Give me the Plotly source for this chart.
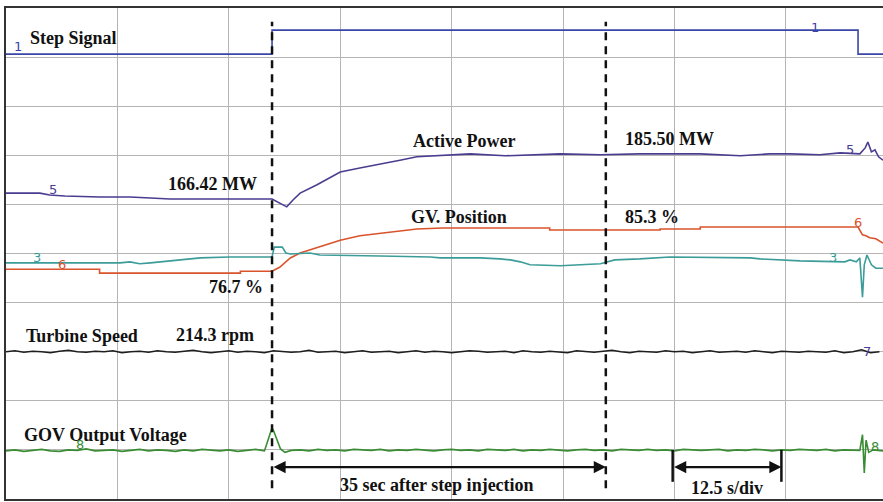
import plotly.graph_objects as go

# ---- time axis: seconds (12.5 s / division) ; amplitudes in screen divisions ----
step_t = [0, 29.85, 29.85, 95.6, 95.6, 98.4]
step_v = [9.06, 9.06, 9.55, 9.55, 9.06, 9.06]

power_t = [0, 3.8, 4.9, 6.6, 10.5, 13.9, 16.2, 18.4, 29.85, 30.7, 31.5, 32.2, 33.0, 34.9,
           37.5, 39.7, 42.3, 44.2, 46.1, 49.8, 52.1, 56.0, 61.0, 62.2, 66.7, 71.1, 77.9,
           82.4, 85.7, 88.0, 91.3, 93.6, 95.8, 96.4, 96.7, 97.1, 97.5, 97.9, 98.4]
power_v = [6.23, 6.23, 6.19, 6.17, 6.15, 6.15, 6.13, 6.11, 6.11, 6.03, 5.95, 6.09, 6.23, 6.40,
           6.66, 6.74, 6.84, 6.90, 6.97, 7.01, 7.03, 6.99, 7.01, 7.03, 7.01, 7.03, 7.03,
           6.99, 7.03, 7.03, 7.01, 7.05, 7.03, 7.15, 7.27, 7.07, 7.11, 6.97, 6.90]

gv_t = [0, 10.5, 10.5, 26.3, 26.3, 29.85, 30.7, 31.9, 33.0, 35.2, 37.5, 39.7, 42.3, 44.2,
        46.1, 49.0, 61.0, 61.0, 73.4, 73.4, 77.9, 77.9, 95.6, 96.1, 96.5, 96.9, 97.6, 98.4]
gv_v = [4.68, 4.68, 4.60, 4.60, 4.64, 4.64, 4.72, 4.91, 5.01, 5.13, 5.27, 5.36, 5.42, 5.46,
        5.50, 5.52, 5.52, 5.48, 5.48, 5.50, 5.50, 5.54, 5.54, 5.38, 5.36, 5.32, 5.30, 5.21]

ch3_t = [0, 12.8, 13.9, 15.0, 16.2, 18.4, 21.8, 25.1, 29.85, 30.1, 31.0, 31.4, 31.9, 34.1,
         35.2, 42.0, 47.6, 48.7, 53.2, 55.4, 56.6, 57.7, 58.8, 62.2, 64.4, 66.7, 68.3, 71.1,
         74.5, 83.5, 84.6, 89.1, 94.1, 94.7, 95.4, 95.8, 96.1, 96.3, 96.6, 97.1, 97.6, 98.4]
ch3_v = [4.81, 4.81, 4.83, 4.79, 4.81, 4.85, 4.91, 4.93, 4.93, 5.13, 5.13, 5.01, 4.99, 5.01,
         4.97, 4.95, 4.93, 4.91, 4.91, 4.89, 4.87, 4.83, 4.77, 4.75, 4.77, 4.79, 4.87, 4.89,
         4.93, 4.91, 4.89, 4.85, 4.83, 4.87, 4.83, 4.91, 4.11, 4.77, 4.97, 4.77, 4.70, 4.70]

speed_t = list(range(0, 99))
speed_v = [3.00, 3.02, 2.99, 3.01, 3.00, 2.98, 3.01, 3.03, 3.00, 2.99,
           3.01, 3.00, 3.02, 2.98, 3.00, 3.01, 2.99, 3.02, 3.00, 2.99,
           3.01, 3.03, 3.00, 2.98, 3.00, 3.02, 2.99, 3.01, 3.00, 2.98,
           3.02, 3.01, 2.99, 3.00, 3.03, 2.99, 3.00, 3.01, 2.98, 3.00,
           3.02, 2.99, 3.00, 3.01, 2.98, 3.00, 3.02, 2.99, 3.01, 3.00,
           2.98, 3.00, 3.02, 3.01, 2.99, 3.00, 3.01, 2.98, 3.02, 3.00,
           2.99, 3.01, 3.00, 2.98, 3.02, 3.00, 2.99, 3.01, 3.03, 3.00,
           2.98, 3.01, 3.00, 2.99, 3.02, 3.00, 3.01, 2.98, 3.00, 3.02,
           2.99, 3.00, 3.01, 2.99, 3.02, 3.00, 2.98, 3.01, 3.00, 2.99,
           3.01, 3.00, 2.99, 3.02, 2.98, 3.00, 3.04, 2.98, 3.00]

gov_t = (list(range(0, 30)) + [29.85, 30.0, 30.4, 30.8, 31.3] + list(range(32, 96))
         + [95.8, 96.1, 96.3, 96.5, 96.8, 97.3, 98.4])
gov_v = ([0.98, 1.00, 0.97, 0.99, 1.01, 0.98, 0.97, 1.00, 0.99, 1.02,
          0.98, 0.99, 1.00, 0.97, 0.99, 1.01, 0.98, 1.00, 0.99, 0.97,
          1.00, 0.98, 1.01, 0.99, 0.98, 1.00, 0.97, 0.99, 1.01, 0.98]
         + [1.45, 1.40, 1.20, 1.02, 0.95]
         + [0.99, 1.00, 0.98, 1.01, 0.99, 1.00, 0.98, 1.01, 1.00, 0.99,
            1.01, 0.98, 1.00, 0.99, 1.01, 1.00, 0.98, 1.00, 1.01, 0.99,
            1.00, 0.98, 1.01, 1.00, 0.99, 1.01, 0.98, 1.00, 0.99, 1.01,
            1.00, 0.98, 1.00, 1.01, 0.99, 1.00, 0.98, 1.01, 1.00, 0.99,
            1.01, 0.99, 1.00, 0.98, 1.01, 1.00, 0.99, 1.00, 1.01, 0.98,
            1.00, 0.99, 1.01, 1.00, 0.98, 1.00, 0.99, 1.01, 1.00, 0.99,
            1.01, 0.98, 1.00, 0.99]
         + [0.99, 1.31, 0.53, 1.20, 0.95, 1.00, 0.98])

step_time = 29.85
end_time = 67.3
div_start, div_end = 74.8, 87.0

# text labels: (text, t, v)
titles = [("Step Signal", 7.6, 9.39), ("Active Power", 51.4, 7.29), ("185.50 MW", 74.4, 7.33),
          ("166.42 MW", 23.2, 6.42), ("GV. Position", 50.8, 5.74), ("85.3 %", 72.5, 5.74),
          ("76.7 %", 25.8, 4.32), ("Turbine Speed", 8.5, 3.32), ("214.3 rpm", 23.5, 3.34),
          ("GOV Output Voltage", 11.2, 1.30),
          ("35 sec after step injection", 48.4, 0.29), ("12.5 s/div", 80.9, 0.22)]
# channel numbers: (text, t, v, color)
BLUE, PURPLE, RED, CYAN, BLACK, GREEN = "#3a45a5", "#4a3d90", "#d9532b", "#3c9c99", "#1e1e1e", "#3a8c34"
channels = [("1", 1.3, 9.21, BLUE), ("1", 90.8, 9.61, BLUE), ("5", 5.3, 6.31, PURPLE),
            ("5", 94.7, 7.11, PURPLE), ("3", 3.5, 4.91, CYAN), ("6", 6.3, 4.77, RED),
            ("6", 95.6, 5.64, RED), ("3", 92.8, 4.91, CYAN), ("7", 96.6, 3.00, PURPLE),
            ("8", 97.5, 1.06, GREEN), ("8", 8.3, 1.10, GREEN)]

fig = go.Figure()
for t, v, c in [(step_t, step_v, BLUE), (power_t, power_v, PURPLE), (gv_t, gv_v, RED),
                (ch3_t, ch3_v, CYAN), (speed_t, speed_v, BLACK), (gov_t, gov_v, GREEN)]:
    fig.add_trace(go.Scatter(x=t, y=v, mode="lines", line=dict(color=c, width=1.6),
                             showlegend=False, hoverinfo="skip"))

for xv in (step_time, end_time):
    fig.add_shape(type="line", x0=xv, x1=xv, y0=0.22, y1=9.72, xref="x", yref="y",
                  line=dict(color="#111", width=2.5, dash="8px,6px"))
for xv in (div_start, div_end):
    fig.add_shape(type="line", x0=xv, x1=xv, y0=0.35, y1=1.0, xref="x", yref="y",
                  line=dict(color="#111", width=2.5))

for x0, x1 in [(step_time, end_time), (div_start, div_end)]:
    fig.add_annotation(x=x1, y=0.65, ax=x0, ay=0.65, xref="x", yref="y", axref="x", ayref="y",
                       text="", showarrow=True, arrowhead=2, arrowside="end+start",
                       arrowsize=1.1, arrowwidth=2.2, arrowcolor="#111", standoff=0, startstandoff=0)

for txt, t, v in titles:
    fig.add_annotation(x=t, y=v, text="<b>%s</b>" % txt, showarrow=False, xref="x", yref="y",
                       font=dict(family="Liberation Serif", size=18, color="#111"))
for txt, t, v, c in channels:
    fig.add_annotation(x=t, y=v, text=txt, showarrow=False, xref="x", yref="y",
                       font=dict(family="DejaVu Sans", size=13, color=c))

fig.update_layout(
    width=883, height=502, margin=dict(l=6, r=0, t=8, b=3),
    paper_bgcolor="white", plot_bgcolor="white",
    xaxis=dict(range=[0, 98.4], tick0=0, dtick=12.5, showgrid=True, gridcolor="#b5b5b5",
               gridwidth=1, showticklabels=False, ticks="", zeroline=False,
               showline=True, mirror=True, linecolor="#333", linewidth=2),
    yaxis=dict(range=[0, 10], tick0=0, dtick=1, showgrid=True, gridcolor="#b5b5b5",
               gridwidth=1, showticklabels=False, ticks="", zeroline=False,
               showline=True, mirror=False, linecolor="#333", linewidth=2),
)
fig.write_html("out.html", config={"displayModeBar": False},
               post_script="document.body.style.margin='0';document.body.style.overflow='hidden';")
